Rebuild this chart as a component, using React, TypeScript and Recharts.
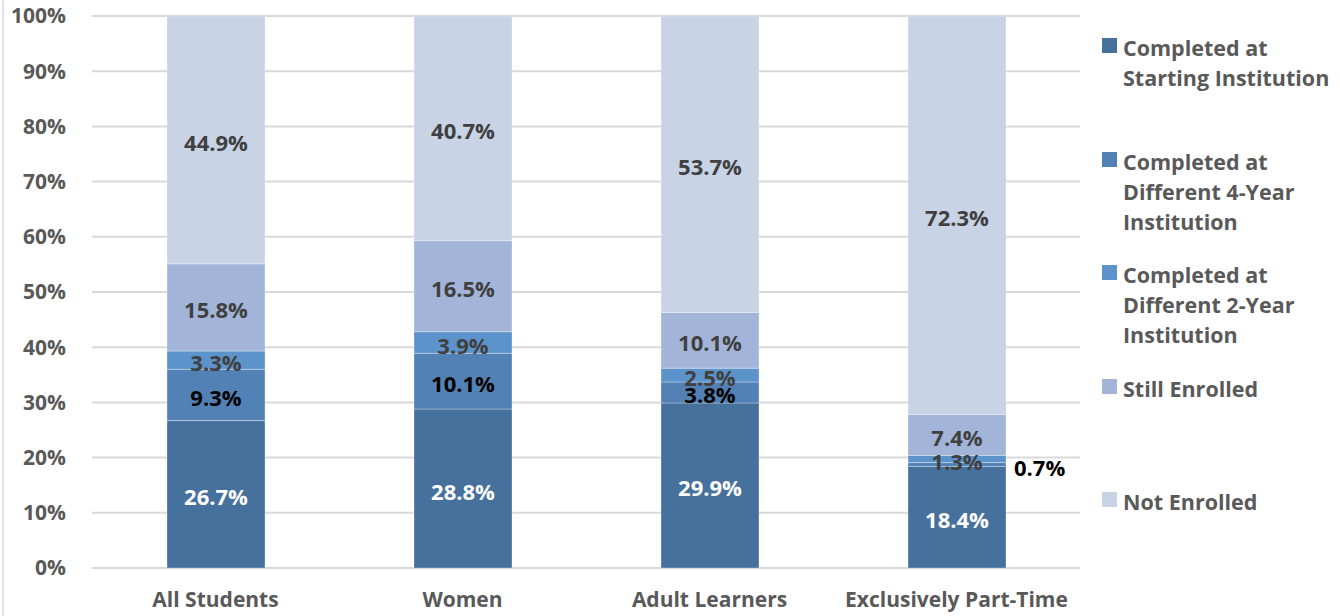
import React from 'react';
import { BarChart, Bar, XAxis, YAxis, CartesianGrid, LabelList } from 'recharts';

const categories = ['All Students', 'Women', 'Adult Learners', 'Exclusively Part-Time'];
const completedStarting = [26.7, 28.8, 29.9, 18.4];
const completedDiff4 = [9.3, 10.1, 3.8, 0.7];
const completedDiff2 = [3.3, 3.9, 2.5, 1.3];
const stillEnrolled = [15.8, 16.5, 10.1, 7.4];
const notEnrolled = [44.9, 40.7, 53.7, 72.3];
const yTicks = [0, 10, 20, 30, 40, 50, 60, 70, 80, 90, 100];

const seriesNames = [
  'Completed at Starting Institution',
  'Completed at Different 4-Year Institution',
  'Completed at Different 2-Year Institution',
  'Still Enrolled',
  'Not Enrolled',
];
const legendLines = [
  ['Completed at', 'Starting Institution'],
  ['Completed at', 'Different 4-Year', 'Institution'],
  ['Completed at', 'Different 2-Year', 'Institution'],
  ['Still Enrolled'],
  ['Not Enrolled'],
];

const COLORS = ['#47719D', '#5282B5', '#5B93CA', '#A2B5D8', '#C8D3E6'];
const LABEL_COLORS = ['#FFFFFF', '#000000', '#404040', '#404040', '#404040'];
const FONT = "'Open Sans', sans-serif";

const data = categories.map((c, i) => ({
  name: c,
  s0: completedStarting[i],
  s1: completedDiff4[i],
  s2: completedDiff2[i],
  s3: stillEnrolled[i],
  s4: notEnrolled[i],
}));

const makeLabel = (idx: number) => (props: any) => {
  const { x, y, width, height, value } = props;
  const small = idx === 1 && value < 1;
  const tx = small ? x + width + 8 : x + width / 2;
  const ty = y + height / 2 + 2;
  return (
    <text
      x={tx}
      y={ty}
      textAnchor={small ? 'start' : 'middle'}
      dominantBaseline="central"
      fill={LABEL_COLORS[idx]}
      fontFamily={FONT}
      fontWeight="bold"
      fontSize={22}
    >
      {`${Number(value).toFixed(1)}%`}
    </text>
  );
};

const LegendBox = () => (
  <div style={{ position: 'absolute', left: 1100, top: 0, width: 240, height: 616 }}>
    {legendLines.map((lines, i) => (
      <div key={i} style={{ position: 'absolute', left: 0, top: 33 + i * 113.5 }}>
        <div
          style={{
            position: 'absolute',
            left: 2,
            top: 5,
            width: 15,
            height: 15,
            background: COLORS[i],
          }}
        />
        <div
          style={{
            position: 'absolute',
            left: 23,
            top: 0,
            fontFamily: FONT,
            fontWeight: 'bold',
            fontSize: 21.5,
            lineHeight: '30px',
            color: '#595959',
            whiteSpace: 'nowrap',
          }}
        >
          {lines.map((l, j) => (
            <div key={j}>{l}</div>
          ))}
        </div>
      </div>
    ))}
  </div>
);

export default function App() {
  return (
    <div style={{ position: 'absolute', left: 0, top: 0, width: 1340, height: 616, background: '#fff' }}>
      <div style={{ position: 'absolute', left: 2, top: 0, width: 2, height: 616, background: '#E3E3E3' }} />
      <div style={{ position: 'absolute', left: 0, top: 0 }}>
        <BarChart
          width={1340}
          height={616}
          data={data}
          margin={{ top: 16, right: 260, bottom: 0, left: 0 }}
          style={{ fontFamily: FONT }}
        >
          <CartesianGrid horizontal vertical={false} stroke="#D9D9D9" strokeWidth={2} />
          <XAxis
            dataKey="name"
            height={48}
            axisLine={false}
            tickLine={false}
            tickMargin={18}
            tick={{ fill: '#595959', fontSize: 21, fontWeight: 'bold', fontFamily: FONT }}
            interval={0}
          />
          <YAxis
            width={92}
            domain={[0, 100]}
            allowDataOverflow
            ticks={yTicks}
            tickFormatter={(v: number) => `${v}%`}
            axisLine={false}
            tickLine={false}
            tickMargin={20}
            tick={{ fill: '#595959', fontSize: 21, fontWeight: 'bold', fontFamily: FONT }}
          />
          {['s0', 's1', 's2', 's3', 's4'].map((k, i) => (
            <Bar
              key={k}
              dataKey={k}
              name={seriesNames[i]}
              stackId="a"
              fill={COLORS[i]}
              stroke="#FFFFFF"
              strokeOpacity={0.3}
              strokeWidth={1}
              barSize={98}
              isAnimationActive={false}
            >
              <LabelList dataKey={k} content={makeLabel(i)} />
            </Bar>
          ))}
        </BarChart>
      </div>
      <LegendBox />
    </div>
  );
}
